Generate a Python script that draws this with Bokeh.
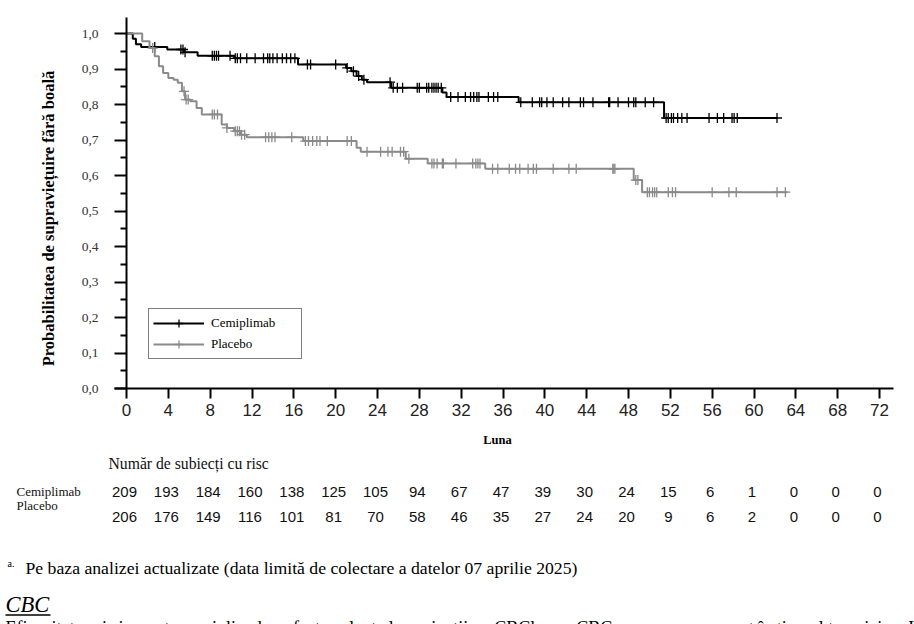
import numpy as np
from bokeh.plotting import figure
from bokeh.models import (Range1d, FixedTicker, Legend, LegendItem, Label,
                          ColumnDataSource, Arrow)
from bokeh.core.properties import value
from bokeh.embed import file_html
from bokeh.resources import INLINE

# ---------------- data ----------------
cemi_t = [0, 0.6, 0.9, 1.4, 3.9, 5.5, 6.8, 10.3, 16.4, 21.0, 21.5, 22.0, 22.5, 23.0, 25.3, 30.2, 30.6, 37.5, 51.4]
cemi_s = [1.0, 0.985, 0.970, 0.962, 0.955, 0.947, 0.937, 0.930, 0.913, 0.903, 0.894, 0.880, 0.870, 0.863, 0.847, 0.834, 0.821, 0.806, 0.762]
cemi_end = 62.2
cemi_cens = [2.7, 5.2, 5.4, 5.6, 8.2, 8.4, 8.6, 8.8, 9.9, 10.4, 10.6, 10.9, 11.5, 12.3, 13.1, 13.5, 13.7, 14.0,
             14.4, 14.9, 15.3, 15.7, 16.1, 17.3, 17.6, 20.0, 21.1, 21.7, 22.2, 22.7, 25.2, 25.5, 25.9, 26.4,
             27.8, 28.0, 28.7, 28.9, 29.2, 29.4, 29.6, 29.8, 30.1, 31.0, 31.7, 32.4, 32.9, 33.2, 33.5, 33.7,
             34.6, 35.1, 35.5, 37.7, 38.8, 39.5, 39.7, 40.2, 40.8, 41.7, 42.3, 43.4, 43.7, 44.6, 46.1, 46.2,
             47.0, 48.0, 48.5, 48.7, 49.6, 50.4, 51.6, 51.8, 52.1, 52.3, 52.7, 53.1, 53.6, 55.7, 56.5, 57.1,
             57.9, 58.1, 58.4, 62.2]

plac_t = [0, 1.5, 2.2, 2.7, 3.1, 3.5, 4.0, 4.5, 4.9, 5.3, 5.6, 6.1, 6.7, 7.2, 9.1, 9.6, 10.3, 10.9, 11.5,
          16.9, 22.0, 22.4, 26.7, 28.8, 34.3, 48.5, 49.3]
plac_s = [1.0, 0.978, 0.959, 0.936, 0.908, 0.889, 0.875, 0.870, 0.861, 0.837, 0.814, 0.809, 0.790, 0.772,
          0.744, 0.734, 0.725, 0.715, 0.708, 0.697, 0.678, 0.667, 0.647, 0.634, 0.619, 0.587, 0.553]
plac_end = 63.2
plac_cens = [2.5, 5.5, 5.7, 5.9, 8.2, 8.4, 8.7, 9.6, 10.4, 10.6, 10.8, 11.0, 11.3, 13.3, 13.6, 13.9, 14.2,
             15.8, 17.1, 17.4, 17.8, 18.2, 18.5, 19.2, 21.1, 21.5, 23.0, 24.3, 25.0, 25.4, 26.2, 26.5, 27.0,
             29.2, 29.4, 29.7, 30.2, 30.3, 31.5, 33.1, 33.4, 33.6, 33.8, 35.0, 35.5, 36.6, 37.2, 37.6, 38.4,
             38.9, 39.2, 40.8, 42.3, 43.0, 46.5, 46.6, 46.7, 48.7, 48.9, 49.8, 50.0, 50.3, 50.5, 50.7, 51.8,
             52.2, 52.5, 56.0, 57.6, 58.3, 62.2, 63.0]

risk_months = [0, 4, 8, 12, 16, 20, 24, 28, 32, 36, 40, 44, 48, 52, 56, 60, 64, 68, 72]
cemi_risk = [209, 193, 184, 160, 138, 125, 105, 94, 67, 47, 39, 30, 24, 15, 6, 1, 0, 0, 0]
plac_risk = [206, 176, 149, 116, 101, 81, 70, 58, 46, 35, 27, 24, 20, 9, 6, 2, 0, 0, 0]

y_ticks = [0.0, 0.1, 0.2, 0.3, 0.4, 0.5, 0.6, 0.7, 0.8, 0.9, 1.0]
y_tick_labels = ["0,0", "0,1", "0,2", "0,3", "0,4", "0,5", "0,6", "0,7", "0,8", "0,9", "1,0"]

series_names = ["Cemiplimab", "Placebo"]

# ---------------- layout constants (pixels) ----------------
W, H = 914, 624
X0_PX, Y0_PX = 126, 388          # pixel of (month 0, probability 0)
PX_PER_MONTH = (879 - 126) / 72.0
PX_PER_UNIT = 355.0


def px_x(px):
    return (px - X0_PX) / PX_PER_MONTH


def px_y(py):
    return (Y0_PX - py) / PX_PER_UNIT


SERIF = "Liberation Serif"
SANS = "Liberation Sans"
BLACK = "#000000"
GRAY = "#8a8a8a"

p = figure(width=W, height=H, output_backend="svg", toolbar_location=None,
           x_range=Range1d(px_x(0), px_x(W)), y_range=Range1d(px_y(H), px_y(0)),
           min_border=0)
p.outline_line_color = None
p.xgrid.visible = False
p.ygrid.visible = False
p.background_fill_color = "white"
p.border_fill_color = "white"

# x axis
xa = p.xaxis[0]
xa.fixed_location = 0
xa.bounds = (px_x(114), px_x(893))
xa.ticker = FixedTicker(ticks=risk_months)
xa.axis_line_width = 2
xa.axis_line_color = BLACK
xa.major_tick_line_width = 2
xa.major_tick_in = 0
xa.major_tick_out = 10
xa.minor_tick_line_color = None
xa.major_label_text_font = SANS
xa.major_label_text_font_size = "17px"
xa.major_label_text_color = "#222222"
xa.major_label_standoff = 5

# y axis
minor_y = [round(v + 0.05, 2) for v in y_ticks[:-1]]
ya = p.yaxis[0]
ya.fixed_location = 0
ya.bounds = (0, px_y(17))
ya.ticker = FixedTicker(ticks=y_ticks, minor_ticks=minor_y)
ya.major_label_overrides = dict(zip(y_ticks, y_tick_labels))
ya.axis_line_color = BLACK
ya.axis_line_width = 2
ya.major_tick_line_width = 2
ya.major_tick_in = 0
ya.major_tick_out = 12
ya.minor_tick_line_width = 2
ya.minor_tick_line_color = BLACK
ya.minor_tick_in = 0
ya.minor_tick_out = 6
ya.major_label_text_font = SERIF
ya.major_label_text_font_size = "13.5px"
ya.major_label_text_color = "#333333"
ya.major_label_standoff = 16


def km_xy(t, s, t_end):
    return list(t) + [t_end], list(s) + [s[-1]]


def cens_y(t, s, c):
    idx = np.searchsorted(np.array(t), np.array(c), side="right") - 1
    return list(np.array(s)[idx])


renderers = []
for t, s, te, cens, col in [(cemi_t, cemi_s, cemi_end, cemi_cens, BLACK),
                            (plac_t, plac_s, plac_end, plac_cens, GRAY)]:
    xs, ys = km_xy(t, s, te)
    r1 = p.step(xs, ys, mode="after", line_color=col, line_width=2)
    r2 = p.scatter(cens, cens_y(t, s, cens), marker="cross", size=10, line_color=col, line_width=1.3)
    renderers.append([r1, r2])

legend = Legend(items=[LegendItem(label=series_names[0], renderers=renderers[0]),
                       LegendItem(label=series_names[1], renderers=renderers[1])],
                location=(148, H - 359))
legend.border_line_color = BLACK
legend.border_line_width = 1.5
legend.background_fill_color = "white"
legend.background_fill_alpha = 1
legend.padding = 4
legend.spacing = 1
legend.margin = 0
legend.glyph_width = 51
legend.glyph_height = 20
legend.label_height = 20
legend.label_width = 86
legend.label_standoff = 7
legend.label_text_font = SERIF
legend.label_text_font_size = "13px"
legend.label_text_color = BLACK
p.add_layout(legend)


def add_text(px, py, text, size, align="left", style="normal", color=BLACK, angle=0.0, font=SERIF):
    p.add_layout(Label(x=px_x(px), y=px_y(py), text=text, angle=angle, text_align=align,
                       text_baseline="middle", text_font=font, text_font_size=size,
                       text_font_style=style, text_color=color))


# titles
add_text(48, 218, "Probabilitatea de supraviețuire fără boală", "16.5px", align="center",
         style="bold", angle=np.pi / 2)
add_text(497, 439, "Luna", "12.5px", align="center", style="bold")

# risk table
add_text(108, 463, "Număr de subiecți cu risc", "15.7px", color="#111111")
for name, py in zip(series_names, [491, 505]):
    add_text(16, py, name, "13px", color="#111111")

for counts, py in [(cemi_risk, 491.5), (plac_risk, 516)]:
    src = ColumnDataSource(dict(x=risk_months, y=[px_y(py)] * len(risk_months),
                                text=[str(v) for v in counts]))
    p.text(x="x", y="y", text="text", source=src, x_offset=-2, text_align="center",
           text_baseline="middle", text_font=value(SANS), text_font_size="15px",
           text_color="#111111")

# footnote
add_text(7, 563, "a.", "10px")
add_text(25, 567, "Pe baza analizei actualizate (data limită de colectare a datelor 07 aprilie 2025)", "17.7px")

# CBC heading
add_text(5, 604, "CBC", "22.5px", style="italic")
p.add_layout(Arrow(end=None, x_start=px_x(5), y_start=px_y(614.5), x_end=px_x(50), y_end=px_y(614.5),
                   line_color=BLACK, line_width=1.3))

p.add_layout(Label(x=px_x(5), y=px_y(617),
                   text="Eficacitatea și siguranța cemiplimab au fost evaluate la pacienții cu CBCla sau CBCm care au progresat în timpul terapiei cu HHI",
                   text_align="left", text_baseline="top", text_font=SERIF, text_font_size="18px",
                   text_color=BLACK))

open("out.html", "w").write(file_html(p, INLINE))
